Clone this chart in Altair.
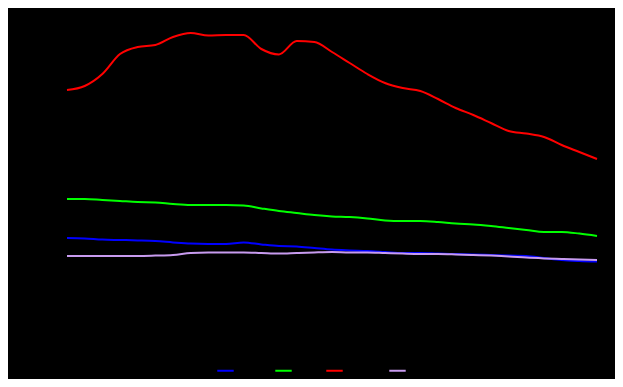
import altair as alt
import pandas as pd

years = list(range(1990, 2021))
series_names = ["Nord", "Est", "Ouest", "Sud"]
colors = ["#0000ff", "#00ff00", "#ff0000", "#c89bef"]

nord = [25.5, 25.4, 25.1, 25, 24.9, 24.75, 24.4, 24.1, 24, 24, 24.4, 23.9, 23.5, 23.4, 23, 22.6,
        22.4, 22.25, 22, 21.75, 21.75, 21.6, 21.5, 21.4, 21.25, 21.1, 21, 20.5, 20, 19.75, 19.6]
est = [35.25, 35.25, 35, 34.75, 34.5, 34.4, 34, 33.75, 33.75, 33.75, 33.6, 32.9, 32.25, 31.75, 31.25,
       30.9, 30.75, 30.4, 29.9, 29.75, 29.75, 29.5, 29.1, 28.9, 28.5, 28, 27.5, 27, 27, 26.6, 26]
ouest = [62.5, 63.5, 66.5, 71.5, 73.25, 73.75, 75.75, 76.75, 76.1, 76.25, 76.25, 72.75, 71.4, 74.75,
         74.5, 72, 69.25, 66.5, 64.25, 63, 62.25, 60.25, 58, 56.25, 54.25, 52.25, 51.6, 50.75,
         48.75, 47, 45.25]
sud = [21, 21, 21, 21, 21, 21.1, 21.25, 21.75, 21.9, 21.9, 21.9, 21.75, 21.6, 21.75, 21.9, 22, 21.9,
       21.9, 21.75, 21.6, 21.5, 21.5, 21.4, 21.25, 21.1, 20.9, 20.6, 20.4, 20.25, 20.1, 20]

rows = []
for name, vals in zip(series_names, [nord, est, ouest, sud]):
    for y, v in zip(years, vals):
        rows.append({"year": y, "value": v, "series": name})
df = pd.DataFrame(rows)

chart = alt.Chart(df).mark_line(strokeWidth=2, interpolate="monotone").encode(
    x=alt.X("year:Q", scale=alt.Scale(domain=[1990, 2020], nice=False),
            axis=alt.Axis(title="Année", format="d", grid=False)),
    y=alt.Y("value:Q", scale=alt.Scale(domain=[0, 80], nice=False),
            axis=alt.Axis(title="Valeur", grid=False)),
    color=alt.Color("series:N", sort=series_names,
                    scale=alt.Scale(domain=series_names, range=colors),
                    legend=alt.Legend(title=None, orient="none", direction="horizontal",
                                      legendX=149, legendY=341,
                                      symbolType="stroke", symbolStrokeWidth=2, symbolSize=270,
                                      labelColor="black")),
).properties(
    width=530, height=320, background="black",
    padding={"left": 59, "top": 12, "right": 18, "bottom": 39},
    autosize=alt.AutoSizeParams(type="none"),
).configure_view(stroke=None).configure_axis(
    labelColor="black", titleColor="black", domainColor="black", tickColor="black"
)

chart.save("out.html", embed_options={"renderer": "svg", "actions": False})
